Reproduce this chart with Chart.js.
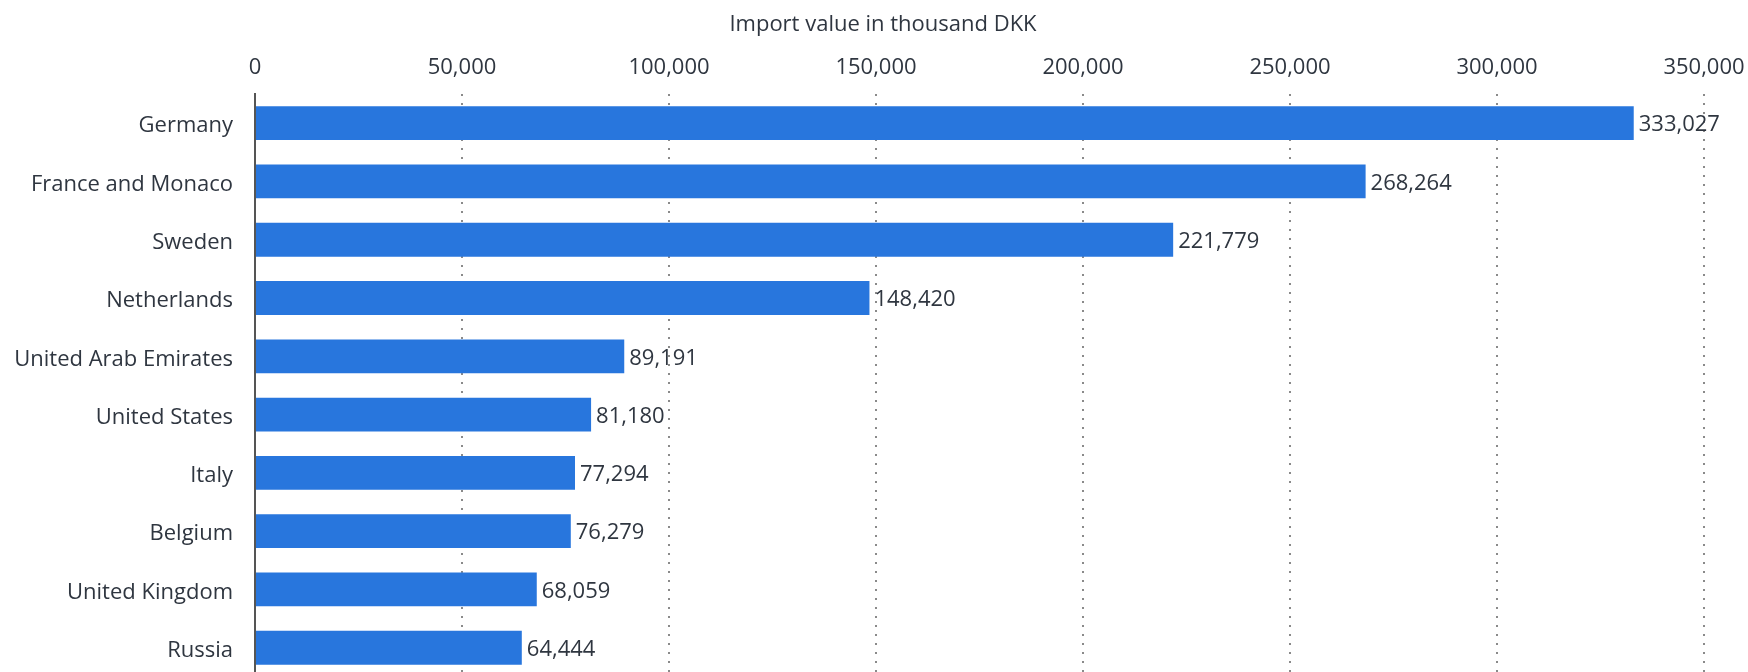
<!DOCTYPE html>
<html>
<head>
<meta charset="utf-8">
<script src="https://cdn.jsdelivr.net/npm/chart.js@4"></script>
<style>
  html, body { margin: 0; padding: 0; background: #fff; overflow: hidden; }
  canvas { display: block; }
</style>
</head>
<body>
<canvas id="chart" width="1748" height="678"></canvas>
<script>
const countries = ['Germany', 'France and Monaco', 'Sweden', 'Netherlands', 'United Arab Emirates',
    'United States', 'Italy', 'Belgium', 'United Kingdom', 'Russia'];
const importValues = [333027, 268264, 221779, 148420, 89191, 81180, 77294, 76279, 68059, 64444];
const axisTitle = 'Import value in thousand DKK';
const axisMax = 350000;
const axisStep = 50000;

const textColor = '#2f3640';
const fontFamily = '"Open Sans", "DejaVu Sans", sans-serif';
const fmt = v => Number(v).toLocaleString('en-US');

// value labels at the end of each bar
const barLabels = {
    id: 'barLabels',
    afterDatasetsDraw(chart) {
        const ctx = chart.ctx;
        const meta = chart.getDatasetMeta(0);
        ctx.save();
        ctx.font = '22px ' + fontFamily;
        ctx.fillStyle = textColor;
        ctx.textAlign = 'left';
        ctx.textBaseline = 'middle';
        meta.data.forEach((bar, i) => {
            ctx.fillText(fmt(chart.data.datasets[0].data[i]), bar.x + 5, bar.y + 2);
        });
        ctx.restore();
    }
};

// axis title above the tick labels
const topTitle = {
    id: 'topTitle',
    afterDraw(chart) {
        const ctx = chart.ctx;
        ctx.save();
        ctx.font = '22px ' + fontFamily;
        ctx.fillStyle = textColor;
        ctx.textAlign = 'center';
        ctx.textBaseline = 'middle';
        ctx.fillText(axisTitle, 883, 25);
        ctx.restore();
    }
};

const ctx = document.getElementById('chart').getContext('2d');
const myChart = new Chart(ctx, {
    type: 'bar',
    data: {
        labels: countries,
        datasets: [{
            data: importValues,
            backgroundColor: '#2876dd',
            borderWidth: 0,
            barPercentage: 0.58,
            categoryPercentage: 1
        }]
    },
    plugins: [barLabels, topTitle],
    options: {
        indexAxis: 'y',
        responsive: false,
        animation: false,
        layout: { padding: { top: 0, right: 44, bottom: 0, left: 0 } },
        plugins: {
            legend: { display: false },
            tooltip: { enabled: false }
        },
        scales: {
            x: {
                position: 'top',
                min: 0,
                max: axisMax,
                afterFit: scale => { scale.height = 94; },
                ticks: {
                    stepSize: axisStep,
                    padding: 0,
                    color: textColor,
                    font: { family: fontFamily, size: 22 },
                    callback: value => fmt(value)
                },
                grid: {
                    drawTicks: true,
                    tickLength: 13,
                    tickColor: 'rgba(0,0,0,0)',
                    lineWidth: 2,
                    color: c => (c.tick && c.tick.value === 0) ? 'rgba(0,0,0,0)' : '#8a8a8a'
                },
                border: { display: false, dash: [2, 7] }
            },
            y: {
                afterFit: scale => { scale.width = 255; },
                ticks: {
                    padding: 0,
                    labelOffset: 3,
                    color: textColor,
                    font: { family: fontFamily, size: 22, lineHeight: 0.1 }
                },
                grid: {
                    display: true,
                    drawOnChartArea: false,
                    drawTicks: true,
                    tickLength: 22,
                    color: 'rgba(0,0,0,0)',
                    tickColor: 'rgba(0,0,0,0)'
                },
                border: { display: true, color: '#555', width: 2 }
            }
        }
    }
});
</script>
</body>
</html>
